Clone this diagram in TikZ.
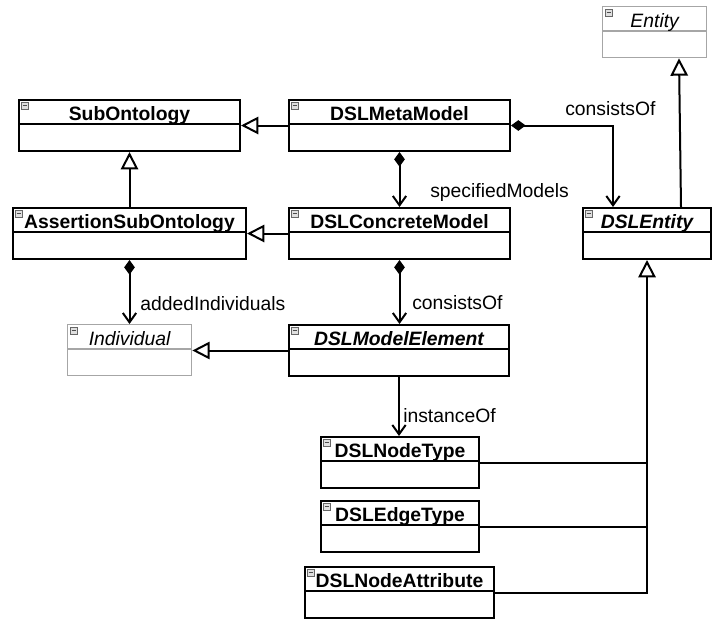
\documentclass[tikz,border=0pt]{standalone}
\usepackage{fontspec}
\setmainfont{Liberation Sans}
\usetikzlibrary{arrows.meta,calc}
\tikzset{
  blk/.style={draw=black, line width=1.5pt},
  gry/.style={draw=gray!70, line width=1pt},
  cls/.style={inner sep=0pt, anchor=north west, minimum height=51*0.75pt},
  ttlb/.style={font=\fontsize{14.5}{16}\selectfont\bfseries, anchor=base, inner sep=0pt},
  ttlbi/.style={font=\fontsize{14.5}{16}\selectfont\bfseries\itshape, anchor=base, inner sep=0pt},
  ttli/.style={font=\fontsize{14.5}{16}\selectfont\itshape, anchor=base, inner sep=0pt},
  icon/.style={draw=gray!80!black, fill=gray!25, line width=0.4pt, minimum size=5.4pt, inner sep=0pt,
    path picture={\draw[black!70, line width=0.6pt] ([xshift=1.2pt]path picture bounding box.west) -- ([xshift=-1.2pt]path picture bounding box.east);}},
  conn/.style={draw=black, line width=1.5pt},
  gen/.style={conn, -{Triangle[open, length=13pt, width=13pt]}},
  comp/.style={conn, {Diamond[length=11pt, width=8pt]}-{Straight Barb[length=7pt, width=10pt]}},
  assoc/.style={conn, -{Straight Barb[length=7pt, width=10pt]}},
  lbl/.style={font=\fontsize{14.5}{16}\selectfont, anchor=base west, inner sep=0pt}
}
\newcommand\umlcls[7]{%
  \node[cls, #6, minimum width=#4*0.75pt] (#1) at (#2,#3) {};
  \draw[#6] ($(#1.north west)+(0,25)$) -- ($(#1.north east)+(0,25)$);
  \node[icon] (#1-i) at ($(#1.north west)+(6.5,6.5)$) {};
  \node[#7] (#1-t) at ($(#1.north)+(0,21)$) {#5};
}
\begin{document}
\begin{tikzpicture}[x=0.75pt, y=-0.75pt]
  \useasboundingbox (0,0) rectangle (717,625);
  \umlcls{entity}{602}{6}{104}{Entity}{gry}{ttli}
  \umlcls{sub}{18}{99}{221}{SubOntology}{blk}{ttlb}
  \umlcls{meta}{288}{99}{221}{DSLMetaModel}{blk}{ttlb}
  \umlcls{assert}{12}{207}{233}{AssertionSubOntology}{blk}{ttlb}
  \umlcls{concrete}{288}{207}{221}{DSLConcreteModel}{blk}{ttlb}
  \umlcls{dslentity}{582}{207}{128}{DSLEntity}{blk}{ttlbi}
  \umlcls{indiv}{67}{324}{124}{Individual}{gry}{ttli}
  \umlcls{elem}{288}{324}{220}{DSLModelElement}{blk}{ttlbi}
  \umlcls{nodetype}{320}{436}{158}{DSLNodeType}{blk}{ttlb}
  \umlcls{edgetype}{320}{500}{158}{DSLEdgeType}{blk}{ttlb}
  \umlcls{nodeattr}{304}{566}{189}{DSLNodeAttribute}{blk}{ttlb}

  % generalizations
  \draw[gen] (meta.west) -- (sub.east);
  \draw[gen] (assert.north) -- (sub.south);
  \draw[gen] (concrete.west) -- (assert.east);
  \draw[gen] (elem.west) -- (elem.west -| indiv.east);
  \draw[gen] ($(dslentity.north east)+(-31,0)$) -- ($(entity.south west)+(77,0)$);
  \draw[gen] (nodeattr.east) -| (dslentity.south);
  \draw[conn] (nodetype.east) -- (nodetype.east -| dslentity.south);
  \draw[conn] (edgetype.east) -- (edgetype.east -| dslentity.south);

  % compositions and associations
  \draw[comp] (meta.east) -| ($(dslentity.north west)+(31,0)$);
  \draw[comp] (meta.south) -- (concrete.north);
  \draw[comp] (assert.south) -- (assert.south |- indiv.north);
  \draw[comp] (concrete.south) -- (concrete.south |- elem.north);
  \draw[assoc] (elem.south) -- (elem.south |- nodetype.north);

  % labels
  \node[lbl] (l1) at (565,115) {consistsOf};
  \node[lbl] (l2) at (430,197) {specifiedModels};
  \node[lbl] (l3) at (140,310) {addedIndividuals};
  \node[lbl] (l4) at (412,309) {consistsOf};
  \node[lbl] (l5) at (403,422) {instanceOf};
\end{tikzpicture}
\end{document}
